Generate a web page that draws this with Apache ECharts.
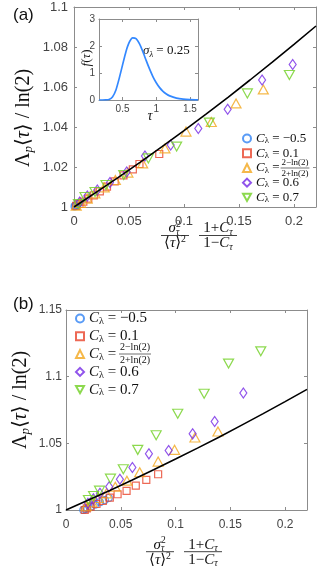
<!DOCTYPE html>
<html>
<head>
<meta charset="utf-8">
<script src="https://cdn.jsdelivr.net/npm/echarts@6/dist/echarts.min.js"></script>
<style>
  html, body { margin: 0; padding: 0; background: #fff; }
  #chart { width: 332px; height: 571px; }
</style>
</head>
<body>
<div id="chart"></div>
<script>
// panel (a) points [x, y]
var aCircle = [[0.0005, 1.0003], [0.0012, 1.0006], [0.002, 1.001], [0.003, 1.0014], [0.004, 1.0018]];
var aSquare = [[0.0775, 1.0265], [0.0595, 1.0215], [0.0535, 1.0188], [0.045, 1.0158], [0.037, 1.0128], [0.030, 1.0102],
               [0.0235, 1.0078], [0.018, 1.0058], [0.013, 1.0042], [0.0085, 1.0027], [0.005, 1.0015], [0.002, 1.0006]];
var aTriUp = [[0.1721, 1.0588], [0.1473, 1.0518], [0.1248, 1.0425], [0.1018, 1.0377], [0.0827, 1.0293], [0.0624, 1.0218],
              [0.049, 1.0172], [0.0376, 1.0135], [0.0275, 1.0098], [0.019, 1.0068], [0.012, 1.0042], [0.006, 1.002], [0.002, 1.0007]];
var aDiamond = [[0.1988, 1.0712], [0.171, 1.0635], [0.1397, 1.0489], [0.113, 1.0393], [0.0879, 1.031], [0.0645, 1.0255],
                [0.0479, 1.0175], [0.0327, 1.0123], [0.0212, 1.0085], [0.0121, 1.0055], [0.0052, 1.0025]];
var aTriDown = [[0.1958, 1.066], [0.1576, 1.0568], [0.123, 1.0422], [0.0933, 1.0302], [0.0676, 1.0243], [0.0452, 1.016],
                [0.0291, 1.011], [0.0191, 1.0075], [0.010, 1.005], [0.004, 1.0015]];

// panel (b) points [x, y]
var bCircle = [[0.0158, 1.0], [0.0175, 1.0006], [0.0195, 1.0013], [0.0225, 1.0025], [0.0265, 1.004], [0.031, 1.0058],
               [0.0355, 1.0075], [0.039, 1.009]];
var bSquare = [[0.0841, 1.0268], [0.0733, 1.0226], [0.0637, 1.0183], [0.0553, 1.0143], [0.0471, 1.0118], [0.040, 1.0093],
               [0.0336, 1.0068], [0.0278, 1.0045], [0.0225, 1.0025], [0.019, 1.0012], [0.0171, 1.0]];
var bTriUp = [[0.1387, 1.0589], [0.1177, 1.0544], [0.0991, 1.0451], [0.0841, 1.0363], [0.0673, 1.0283], [0.0556, 1.022],
              [0.045, 1.0175], [0.0369, 1.0125], [0.0295, 1.009], [0.0235, 1.0058], [0.0185, 1.0028]];
var bDiamond = [[0.1619, 1.0877], [0.1357, 1.0664], [0.1156, 1.0571], [0.0937, 1.0446], [0.0757, 1.0421], [0.0606, 1.0318],
                [0.0492, 1.0231], [0.0394, 1.0175], [0.031, 1.0125], [0.025, 1.0085], [0.020, 1.005]];
var bTriDown = [[0.1778, 1.119], [0.1484, 1.1098], [0.1261, 1.0872], [0.102, 1.0722], [0.0823, 1.0561], [0.0655, 1.0451],
                [0.0523, 1.0306], [0.0406, 1.0235], [0.0306, 1.0145], [0.0252, 1.0105], [0.0205, 1.0075]];

// theory curve (same in both panels)
var fitX = [0, 0.02, 0.04, 0.06, 0.08, 0.1, 0.12, 0.14, 0.16, 0.18, 0.2, 0.22];
var fitY = [1, 1.0073, 1.0147, 1.0223, 1.0302, 1.0382, 1.0464, 1.0548, 1.0635, 1.0723, 1.0813, 1.0905];

// inset: distribution f(tau)
var tau = [0.15, 0.2, 0.25, 0.3, 0.35, 0.4, 0.45, 0.5, 0.55, 0.6, 0.65, 0.7, 0.75, 0.8, 0.85, 0.9, 0.95, 1.0,
           1.05, 1.1, 1.15, 1.2, 1.3, 1.4, 1.5, 1.62];
var fTau = [0, 0, 0.002, 0.02, 0.11, 0.36, 0.8, 1.3, 1.79, 2.14, 2.3, 2.27, 2.085, 1.795, 1.467, 1.15, 0.87, 0.64,
            0.459, 0.323, 0.223, 0.153, 0.069, 0.03, 0.013, 0.004];

var xTicks = [0, 0.05, 0.1, 0.15, 0.2];
var yTicksA = [1, 1.02, 1.04, 1.06, 1.08, 1.1];
var yTicksB = [1, 1.05, 1.1, 1.15];
var tauTicks = [0.5, 1, 1.5];
var fTicks = [0, 1, 2, 3];

var legendKeys = ['m05', 'p01', 'pfr', 'p06', 'p07'];
var legendVals = ['−0.5', '0.1', '', '0.6', '0.7'];

var SERIF = '"Liberation Serif", "DejaVu Serif", serif';
var SANS = '"Liberation Sans", Arial, sans-serif';
var AXIS = '#8c8c8c';
var INK = '#111';

var markers = {
  m05: {symbol: 'circle', size: 7, color: '#3082f4'},
  p01: {symbol: 'rect', size: 7, color: '#e8442a'},
  pfr: {symbol: 'triangle', size: [10, 9], color: '#f3a61c'},
  p06: {symbol: 'diamond', size: [7, 10], color: '#7428e6'},
  p07: {symbol: 'path://M0,0L10,0L5,9Z', size: [10, 9], color: '#6fcf22'}
};

function fmtNum(v) { return String(+(+v).toFixed(3)); }

function axis(dim, gi, min, max, ticks, mirror, fontSize, margin) {
  var pos = dim === 'x' ? (mirror ? 'top' : 'bottom') : (mirror ? 'right' : 'left');
  return {
    type: 'value', gridIndex: gi, min: min, max: max, position: pos,
    axisLine: {show: true, onZero: false, lineStyle: {color: AXIS, width: 1}},
    axisTick: {show: true, inside: true, length: 3, customValues: ticks, lineStyle: {color: AXIS}},
    axisLabel: {show: !mirror, customValues: ticks, formatter: fmtNum, fontFamily: SANS,
                fontSize: fontSize, color: '#444', margin: margin},
    splitLine: {show: false}
  };
}

function scatter(key, data, gi) {
  var m = markers[key];
  return {
    type: 'scatter', name: key, data: data, xAxisIndex: gi * 2, yAxisIndex: gi * 2,
    symbol: m.symbol, symbolSize: m.size, silent: true, z: 3,
    itemStyle: {color: 'rgba(255,255,255,0)', borderColor: m.color, borderWidth: 1.2}
  };
}

function pairs(xs, ys) {
  return xs.map(function (x, i) { return [x, ys[i]]; });
}

function mathRich(s) {
  return {
    n: {fontFamily: SERIF, fontSize: s, lineHeight: s * 1.15, color: INK},
    i: {fontFamily: SERIF, fontStyle: 'italic', fontSize: s, lineHeight: s * 1.15, color: INK},
    sb: {fontFamily: SERIF, fontStyle: 'italic', fontSize: s * 0.65, lineHeight: s * 0.4, verticalAlign: 'bottom', color: INK},
    sp: {fontFamily: SERIF, fontSize: s * 0.65, lineHeight: s * 0.4, verticalAlign: 'top', color: INK}
  };
}

function txt(x, y, text, size, align, extra) {
  var el = {
    type: 'text', x: x, y: y, silent: true,
    style: {text: text, rich: mathRich(size), align: align || 'center', verticalAlign: 'middle',
            font: size + 'px ' + SERIF, fill: INK}
  };
  for (var k in extra) el[k] = extra[k];
  return el;
}

function bar(x1, x2, y, w) {
  return {type: 'line', silent: true, shape: {x1: x1, y1: y, x2: x2, y2: y},
          style: {stroke: INK, lineWidth: w || 0.8}};
}

// x-axis title: sigma^2/<tau>^2 * (1+C)/(1-C)
function xTitle(left, barY) {
  var c1 = left + 14, c2 = left + 57;
  return [
    txt(c1 + 1, barY - 7, '{i|σ}', 15, 'right'),
    txt(c1 + 1, barY - 11, '{n|2}', 9.5, 'left'),
    txt(c1 + 1, barY - 3.5, '{i|τ}', 9.5, 'left'),
    bar(left, left + 28, barY),
    txt(c1, barY + 8, '{n|⟨}{i|τ}{n|⟩}{sp|2}', 15),
    txt(c2, barY - 7, '{n|1+}{i|C}{sb|τ}', 15),
    bar(left + 38, left + 76, barY),
    txt(c2, barY + 8, '{n|1−}{i|C}{sb|τ}', 15)
  ];
}

function yTitle(x, y) {
  return txt(x, y, '{n|Λ}{sb|p}{n|⟨}{i|τ}{n|⟩ / ln(2)}', 20, 'center', {rotation: Math.PI / 2});
}

function legendFrac(cx, barY, s) {
  return [
    txt(cx, barY - s * 0.62, '{n|2−ln(2)}', s),
    bar(cx - s * 1.6, cx + s * 1.6, barY, 0.6),
    txt(cx, barY + s * 0.68, '{n|2+ln(2)}', s)
  ];
}

function legendCfg(left, top, size, gap) {
  return {
    data: legendKeys, orient: 'vertical', left: left, top: top, itemWidth: 8, itemHeight: 8,
    itemGap: gap, selectedMode: false, padding: 0,
    formatter: function (name) {
      var i = legendKeys.indexOf(name);
      return '{c|C}{s|λ}{t| =' + (legendVals[i] ? ' ' + legendVals[i] : '') + '}';
    },
    textStyle: {
      fontFamily: SERIF, fontSize: size, color: INK,
      rich: {
        c: {fontFamily: SERIF, fontStyle: 'italic', fontSize: size, lineHeight: size * 1.08, color: INK},
        s: {fontFamily: SERIF, fontSize: size * 0.68, lineHeight: size * 0.45, verticalAlign: 'bottom', color: INK},
        t: {fontFamily: SERIF, fontSize: size, lineHeight: size * 1.08, color: INK}
      }
    }
  };
}

var chart = echarts.init(document.getElementById('chart'));

var series = [
  scatter('m05', aCircle, 0), scatter('p01', aSquare, 0), scatter('pfr', aTriUp, 0),
  scatter('p06', aDiamond, 0), scatter('p07', aTriDown, 0),
  scatter('m05', bCircle, 1), scatter('p01', bSquare, 1), scatter('pfr', bTriUp, 1),
  scatter('p06', bDiamond, 1), scatter('p07', bTriDown, 1),
  {type: 'line', data: pairs(fitX, fitY), xAxisIndex: 0, yAxisIndex: 0, showSymbol: false, silent: true, z: 4,
   lineStyle: {color: '#000', width: 1.6}},
  {type: 'line', data: pairs(fitX, fitY), xAxisIndex: 2, yAxisIndex: 2, showSymbol: false, silent: true, z: 4,
   lineStyle: {color: '#000', width: 1.6}},
  {type: 'line', data: pairs(tau, fTau), xAxisIndex: 4, yAxisIndex: 4, showSymbol: false, silent: true, smooth: 0.2, z: 4,
   lineStyle: {color: '#3388ff', width: 1.7}}
];

var graphics = [
  {type: 'text', x: 13, y: 15, silent: true, style: {text: '(a)', font: '17px ' + SANS, fill: INK, verticalAlign: 'middle'}},
  {type: 'text', x: 13, y: 304, silent: true, style: {text: '(b)', font: '17px ' + SANS, fill: INK, verticalAlign: 'middle'}},
  yTitle(24, 118),
  yTitle(21, 400),
  txt(150, 116, '{i|τ}', 14),
  txt(87, 58, '{i|f}{n|(}{i|τ}{n|)}', 13, 'center', {rotation: Math.PI / 2}),
  txt(143, 51, '{i|σ}{sb|λ}{n| = 0.25}', 13, 'left')
].concat(xTitle(161, 235.5), xTitle(146, 551.7), legendFrac(295, 168, 9), legendFrac(135, 354, 10));

chart.setOption({
  animation: false,
  grid: [
    {left: 74, top: 7, width: 242, height: 200},
    {left: 66, top: 310, width: 241, height: 200},
    {left: 99, top: 19, width: 99, height: 81, show: true, backgroundColor: '#fff', borderWidth: 0}
  ],
  xAxis: [
    axis('x', 0, 0, 0.22, xTicks, false, 13, 8), axis('x', 0, 0, 0.22, xTicks, true),
    axis('x', 1, 0, 0.22, xTicks, false, 12, 9), axis('x', 1, 0, 0.22, xTicks, true),
    axis('x', 2, 0.15, 1.62, tauTicks, false, 10, 4), axis('x', 2, 0.15, 1.62, tauTicks, true)
  ],
  yAxis: [
    axis('y', 0, 1, 1.1, yTicksA, false, 13, 6), axis('y', 0, 1, 1.1, yTicksA, true),
    axis('y', 1, 1, 1.15, yTicksB, false, 12, 4), axis('y', 1, 1, 1.15, yTicksB, true),
    axis('y', 2, 0, 3, fTicks, false, 10, 4), axis('y', 2, 0, 3, fTicks, true)
  ],
  legend: [legendCfg(242, 132, 13, 1.2), legendCfg(75, 311, 15, 2.2)],
  series: series,
  graphic: graphics
});
</script>
</body>
</html>
